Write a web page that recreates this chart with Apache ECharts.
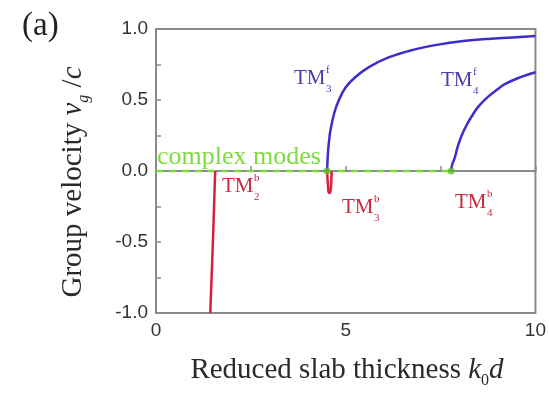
<!DOCTYPE html>
<html>
<head>
<meta charset="utf-8">
<script src="https://cdn.jsdelivr.net/npm/echarts@6/dist/echarts.min.js"></script>
<style>html,body{margin:0;padding:0;background:#fff;}#c{width:549px;height:394px;}</style>
</head>
<body>
<div id="c"></div>
<script>
// ---- data ----
var xTicks = [0, 5, 10];
var yTicks = [-1.0, -0.5, 0.0, 0.5, 1.0];
var tm2b = [[1.43, -1.0], [1.50, -0.5], [1.56, 0.0]];
var tm3b = [[4.51, 0.0], [4.53, -0.09], [4.56, -0.155], [4.60, -0.14], [4.62, -0.07], [4.63, 0.0]];
var tm3f = [[4.51, 0.0], [4.53, 0.12], [4.56, 0.21], [4.60, 0.29], [4.70, 0.41], [4.82, 0.50], [5.00, 0.59], [5.25, 0.66], [5.60, 0.73], [6.13, 0.80], [6.80, 0.855], [7.43, 0.89], [8.10, 0.915], [8.74, 0.93], [9.40, 0.94], [10.0, 0.95]];
var tm4f = [[7.78, 0.0], [7.80, 0.04], [7.87, 0.09], [7.95, 0.17], [8.04, 0.24], [8.17, 0.315], [8.31, 0.38], [8.50, 0.455], [8.74, 0.52], [9.00, 0.575], [9.18, 0.61], [9.55, 0.655], [10.0, 0.695]];
var complexLine = [[0, 0.0], [7.78, 0.0]];
var complexPoints = [[4.51, 0.0], [7.78, 0.0]];
var complexLabel = 'complex modes';
var modeLabels = [
  {main: 'TM', sup: 'f', sub: '3', color: 'blue'},
  {main: 'TM', sup: 'f', sub: '4', color: 'blue'},
  {main: 'TM', sup: 'b', sub: '2', color: 'red'},
  {main: 'TM', sup: 'b', sub: '3', color: 'red'},
  {main: 'TM', sup: 'b', sub: '4', color: 'red'}
];
var panelLabel = '(a)';

// ---- style ----
var RED = '#d8203c', BLUE = '#3c2ec8', GREEN = '#7edc3c';
var RED_T = '#c82a40', BLUE_T = '#4a3ea8';
var serif = '"Liberation Serif", "Times New Roman", serif';
var sans = '"Liberation Sans", Arial, sans-serif';
var labelPos = [[294, 78], [441, 80], [222, 186], [342, 207], [455, 202]];

var chart = echarts.init(document.getElementById('c'), null, {renderer: 'canvas'});

function modeLabel(m, p) {
  var col = m.color === 'blue' ? BLUE_T : RED_T;
  return {
    type: 'group', x: p[0], y: p[1],
    children: [
      {type: 'text', style: {text: m.main, x: 0, y: 0, fill: col, font: '21px ' + serif, textVerticalAlign: 'middle'}},
      {type: 'text', style: {text: m.sup, x: 32, y: -8, fill: col, font: '11px ' + serif, textVerticalAlign: 'middle'}},
      {type: 'text', style: {text: m.sub, x: 32, y: 11, fill: col, font: '11px ' + serif, textVerticalAlign: 'middle'}}
    ]
  };
}

var graphics = modeLabels.map(function (m, i) { return modeLabel(m, labelPos[i]); });
graphics.push({type: 'text', style: {text: panelLabel, x: 22, y: 26, fill: '#222', font: '33px ' + serif, textVerticalAlign: 'middle'}});
graphics.push({type: 'text', style: {text: complexLabel, x: 157, y: 157, fill: GREEN, font: '26px ' + serif, textVerticalAlign: 'middle'}});
var TS = 29;
graphics.push({
  type: 'text', x: 73, y: 182, rotation: Math.PI / 2,
  style: {
    text: 'Group velocity {i|v}{sub|g}{n| /}{i|c}',
    fill: '#2a2a2a', font: TS + 'px ' + serif, align: 'center', verticalAlign: 'middle',
    rich: {
      i: {fontFamily: serif, fontSize: TS, fontStyle: 'italic', lineHeight: 38, verticalAlign: 'middle', fill: '#2a2a2a'},
      n: {fontFamily: serif, fontSize: TS, lineHeight: 38, verticalAlign: 'middle', fill: '#2a2a2a'},
      sub: {fontFamily: serif, fontSize: 16, fontStyle: 'italic', lineHeight: 38, verticalAlign: 'bottom', fill: '#2a2a2a'}
    }
  }
});
graphics.push({
  type: 'text', x: 347, y: 370,
  style: {
    text: 'Reduced slab thickness {i|k}{sub|0}{i|d}',
    fill: '#2a2a2a', font: TS + 'px ' + serif, align: 'center', verticalAlign: 'middle',
    rich: {
      i: {fontFamily: serif, fontSize: TS, fontStyle: 'italic', lineHeight: 38, verticalAlign: 'middle', fill: '#2a2a2a'},
      sub: {fontFamily: serif, fontSize: 16, lineHeight: 38, verticalAlign: 'bottom', fill: '#2a2a2a'}
    }
  }
});

var axisCommon = {
  axisLine: {show: true, lineStyle: {color: '#8a8a8a', width: 2}},
  axisTick: {show: true, inside: true, length: 5, lineStyle: {color: '#8a8a8a', width: 1.5}},
  minorTick: {show: true, splitNumber: 2, length: 5, lineStyle: {color: '#8a8a8a', width: 1.5}},
  splitLine: {show: false},
  axisLabel: {color: '#333333', fontFamily: sans, fontSize: 19}
};

chart.setOption({
  animation: false,
  backgroundColor: '#ffffff',
  grid: {left: 156, right: 11, top: 29, bottom: 81, show: true, borderColor: '#8a8a8a', borderWidth: 2},
  xAxis: Object.assign({}, axisCommon, {
    type: 'value', min: xTicks[0], max: xTicks[xTicks.length - 1], interval: 5,
    axisLabel: Object.assign({}, axisCommon.axisLabel, {margin: 8, formatter: function (v) { return xTicks.indexOf(v) >= 0 ? String(v) : ''; }})
  }),
  yAxis: Object.assign({}, axisCommon, {
    type: 'value', min: yTicks[0], max: yTicks[yTicks.length - 1], interval: 0.5,
    axisLabel: Object.assign({}, axisCommon.axisLabel, {margin: 8, formatter: function (v) { return v.toFixed(1); }})
  }),
  series: [
    {type: 'line', data: complexLine, symbol: 'none', lineStyle: {color: GREEN, width: 2.5, type: [7, 6]}, z: 2},
    {type: 'scatter', data: complexPoints, symbol: 'circle', symbolSize: 7, itemStyle: {color: '#5cc22a'}, z: 4},
    {type: 'line', data: tm2b, symbol: 'none', lineStyle: {color: RED, width: 2.5}, z: 3},
    {type: 'line', data: tm3b, symbol: 'none', smooth: 0.5, lineStyle: {color: RED, width: 2.5}, z: 3},
    {type: 'line', data: tm3f, symbol: 'none', smooth: 0.4, lineStyle: {color: BLUE, width: 2.5}, z: 3},
    {type: 'line', data: tm4f, symbol: 'none', smooth: 0.4, lineStyle: {color: BLUE, width: 2.5}, z: 3}
  ],
  graphic: graphics
});
</script>
</body>
</html>
